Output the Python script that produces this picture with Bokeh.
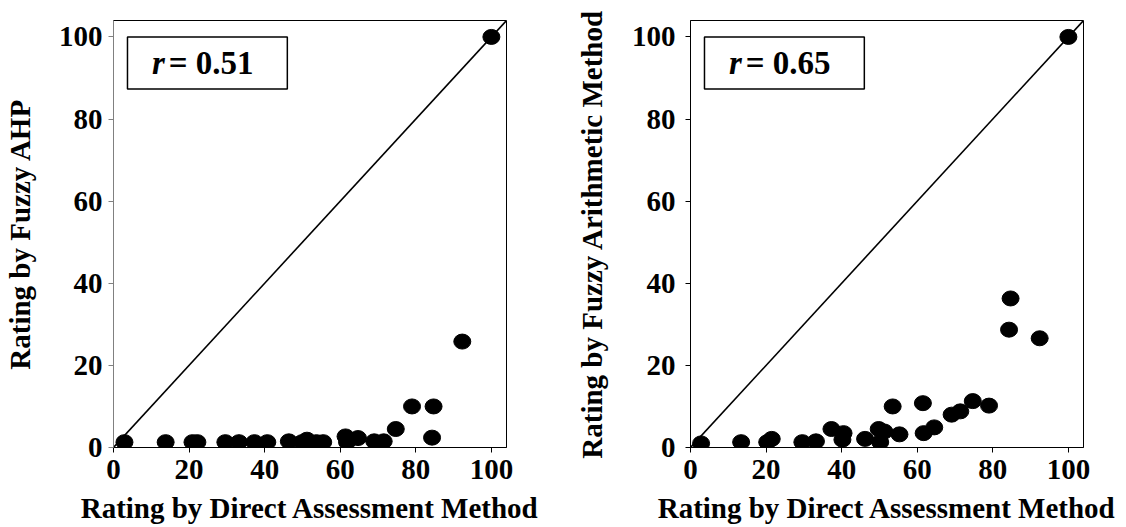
from bokeh.plotting import figure
from bokeh.layouts import row
from bokeh.models import BoxAnnotation, Label, Range1d, FixedTicker
from bokeh.embed import file_html
from bokeh.resources import INLINE

# ---- data ----
direct_ahp = [2.9, 13.8, 20.9, 22.2, 29.6, 33.2, 37.3, 40.7, 46.4, 49.9, 51.2, 53.7, 55.5,
              61.4, 61.8, 64.7, 69.0, 71.5, 74.7, 79.0, 84.7, 84.3, 92.3, 100.0]
fuzzy_ahp = [1.3, 1.3, 1.3, 1.3, 1.3, 1.3, 1.3, 1.3, 1.5, 1.3, 1.9, 1.3, 1.3,
             2.7, 1.3, 2.3, 1.5, 1.5, 4.5, 10.0, 10.0, 2.4, 25.8, 100.0]

direct_fam = [2.8, 13.4, 20.3, 21.5, 29.6, 33.2, 37.3, 40.5, 40.2, 46.2, 49.8, 51.3, 50.2,
              53.5, 55.3, 61.5, 61.7, 64.5, 69.1, 71.4, 74.7, 79.0, 84.7, 84.3, 92.4, 100.0]
fuzzy_fam = [1.0, 1.3, 1.3, 2.1, 1.3, 1.5, 4.5, 3.5, 1.9, 2.1, 4.5, 3.9, 1.3,
             10.0, 3.2, 10.8, 3.5, 4.9, 8.0, 8.8, 11.3, 10.2, 36.3, 28.7, 26.6, 100.0]

ticks = [0, 20, 40, 60, 80, 100]
diag = [0, 104]
r_values = ["0.51", "0.65"]
x_title = "Rating by Direct Assessment Method"
y_titles = ["Rating by Fuzzy AHP", "Rating by Fuzzy Arithmetic Method"]

FONT = "Liberation Serif"


def make_panel(xs, ys, ytitle, rtext, bl, br, yaxis_color, y_mls, y_als):
    p = figure(frame_width=393, frame_height=427, min_border_left=bl, min_border_right=br,
               min_border_top=20, min_border_bottom=80,
               x_range=Range1d(0, 104), y_range=Range1d(0, 104),
               output_backend="svg", toolbar_location=None,
               background_fill_color="white", border_fill_color="white")
    p.grid.visible = False
    p.outline_line_color = "black"
    p.outline_line_width = 1

    for ax in (p.xaxis[0], p.yaxis[0]):
        ax.ticker = FixedTicker(ticks=ticks)
        ax.major_label_text_font = FONT
        ax.major_label_text_font_style = "bold"
        ax.major_label_text_font_size = "29px"
        ax.major_label_text_color = "black"
        ax.axis_label_text_font = FONT
        ax.axis_label_text_font_style = "bold"
        ax.axis_label_text_font_size = "29px"
        ax.axis_label_text_color = "black"
        ax.major_tick_in = 0
        ax.major_tick_out = 5
        ax.minor_tick_in = 0
        ax.minor_tick_out = 0
        ax.major_tick_line_color = "black"
    p.xaxis.axis_label = x_title
    p.yaxis.axis_label = ytitle
    p.xaxis.axis_line_color = "black"
    p.xaxis.major_label_standoff = 7
    p.xaxis.axis_label_standoff = 10
    p.yaxis.axis_line_color = yaxis_color
    p.yaxis.major_tick_line_color = yaxis_color
    p.yaxis.major_label_standoff = y_mls
    p.yaxis.axis_label_standoff = y_als

    p.line(diag, diag, line_color="black", line_width=1.6)
    p.ellipse(xs, ys, width=17, height=15, width_units="screen", height_units="screen",
              fill_color="black", line_color="black")

    p.add_layout(BoxAnnotation(left=3.7, right=46.0, bottom=87.3, top=100.0,
                               fill_color="white", fill_alpha=1.0,
                               line_color="black", line_alpha=1.0, line_width=1.5))
    p.add_layout(Label(x=13.6, y=93.6, text="r", text_align="right", text_baseline="middle",
                       text_font=FONT, text_font_style="bold italic", text_font_size="33px",
                       text_color="black"))
    p.add_layout(Label(x=14.6, y=93.6, text="= " + rtext, text_align="left",
                       text_baseline="middle", text_font=FONT, text_font_style="bold",
                       text_font_size="33px", text_color="black"))
    return p


p1 = make_panel(direct_ahp, fuzzy_ahp, y_titles[0], r_values[0], 101, 54, "#808080", 6, 20)
p2 = make_panel(direct_fam, fuzzy_fam, y_titles[1], r_values[1], 130, 39, "black", 10, 21)

layout = row(p1, p2)
open("out.html", "w").write(file_html(layout, INLINE))
